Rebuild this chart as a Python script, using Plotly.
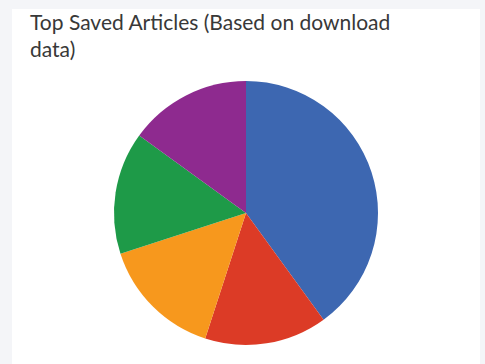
import plotly.graph_objects as go

# article share of downloads
labels = ["Article 1", "Article 2", "Article 3", "Article 4", "Article 5"]
values = [8, 3, 3, 3, 3]
colors = ["#3d67b1", "#dc3b26", "#f7981d", "#1e9a48", "#8e2a8f"]

W, H = 485, 364
cx, cy, r = 246, 213, 132

fig = go.Figure(go.Pie(
    labels=labels,
    values=values,
    sort=False,
    direction="clockwise",
    rotation=0,
    textinfo="none",
    marker=dict(colors=colors, line=dict(width=0)),
    domain=dict(x=[(cx - r) / W, (cx + r) / W],
                y=[(H - cy - r) / H, (H - cy + r) / H]),
    showlegend=False,
))

# white card on a light grey page
fig.add_shape(type="rect", xref="paper", yref="paper",
              x0=12 / W, x1=480 / W, y0=-0.05, y1=(H - 9) / H,
              fillcolor="white", line=dict(width=0), layer="below")

fig.add_annotation(
    text="Top Saved Articles (Based on download<br>data)",
    xref="paper", yref="paper",
    x=28 / W, xanchor="left",
    y=1 - 7 / H, yanchor="top",
    align="left", showarrow=False,
    font=dict(family="Lato, sans-serif", size=21, color="#383838"),
)

fig.update_layout(
    width=W, height=H,
    margin=dict(l=0, r=0, t=0, b=0),
    paper_bgcolor="#f4f5f8",
    plot_bgcolor="white",
)

fig.write_html(
    "out.html",
    config={"displayModeBar": False},
    post_script="document.body.style.margin='0';"
                "document.body.style.background='#f4f5f8';",
)
